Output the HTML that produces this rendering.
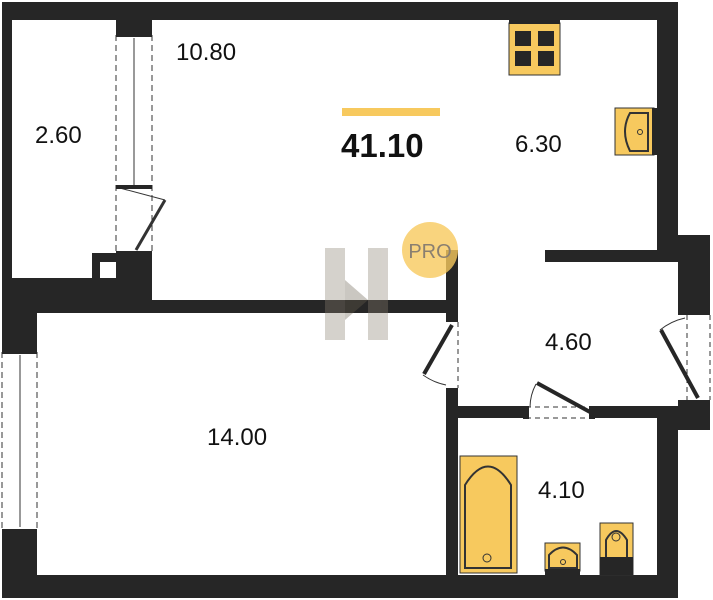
<!DOCTYPE html>
<html><head><style>html,body{margin:0;padding:0;background:#fff}svg{display:block}text{font-family:"Liberation Sans",sans-serif;fill:#111}</style></head><body>
<svg width="713" height="600" viewBox="0 0 713 600" xmlns="http://www.w3.org/2000/svg">
<g fill="#262626">
<rect x="2" y="2" width="676" height="18"/>
<rect x="2" y="2" width="10" height="300"/>
<rect x="116" y="2" width="36" height="33"/>
<rect x="657" y="2" width="21" height="260"/>
<rect x="678" y="235" width="32" height="80"/>
<rect x="545" y="250" width="165" height="12"/>
<rect x="92" y="253" width="60" height="60"/>
<rect x="2" y="278" width="150" height="35"/>
<rect x="2" y="278" width="35" height="74"/>
<rect x="2" y="530" width="35" height="68"/>
<rect x="152" y="300" width="306" height="13"/>
<rect x="446" y="250" width="12" height="72"/>
<rect x="446" y="388" width="12" height="190"/>
<rect x="446" y="406" width="80" height="12"/>
<rect x="590" y="406" width="120" height="12"/>
<rect x="678" y="400" width="32" height="30"/>
<rect x="657" y="406" width="21" height="192"/>
<rect x="2" y="575" width="676" height="23"/>
</g>
<rect x="100" y="262" width="16" height="16" fill="#fff"/>
<!-- watermark -->
<g opacity="0.35"><rect x="325" y="248" width="20" height="92" fill="#8a7f70"/><rect x="368" y="248" width="20" height="92" fill="#8a7f70"/><polygon points="345,280 368,300 345,320" fill="#6a6050"/></g>
<circle cx="430" cy="250" r="28" fill="#f7c95e" opacity="0.8"/>
<text x="430" y="258" font-size="20" fill="#8a7f70" style="fill:#8a7f70" text-anchor="middle">PRO</text>
<!-- windows -->
<g stroke="#333" fill="none">
<line x1="116" y1="35" x2="116" y2="252" stroke-dasharray="6,4"/>
<line x1="152" y1="35" x2="152" y2="252" stroke-dasharray="6,4"/>
<line x1="134" y1="38" x2="134" y2="186"/>
<line x1="2" y1="352" x2="2" y2="530" stroke-dasharray="6,4"/>
<line x1="37" y1="352" x2="37" y2="530" stroke-dasharray="6,4"/>
<line x1="20" y1="355" x2="20" y2="527"/>
<line x1="458" y1="322" x2="458" y2="388" stroke-dasharray="5,4"/>
<line x1="526" y1="407" x2="590" y2="407" stroke-dasharray="5,4"/>
<line x1="526" y1="418" x2="590" y2="418" stroke-dasharray="5,4"/>
<line x1="687" y1="315" x2="687" y2="400" stroke-dasharray="5,4"/>
<line x1="710" y1="315" x2="710" y2="400" stroke-dasharray="5,4"/>
<line x1="116" y1="187" x2="165" y2="200" />
<line x1="165" y1="200" x2="136" y2="250" stroke-width="3"/>
<path d="M423,375 A60,60 0 0 0 446,385"/>
<path d="M536,384 A50,50 0 0 0 530,407"/>
<path d="M660,330 A60,60 0 0 1 685,318"/>
</g>
<g fill="#262626">
<rect x="116" y="33" width="36" height="4"/><rect x="116" y="185" width="36" height="4"/><rect x="116" y="251" width="36" height="4"/>
<rect x="2" y="350" width="35" height="4"/><rect x="2" y="529" width="35" height="4"/>
<rect x="523" y="406" width="6" height="13"/><rect x="589" y="406" width="6" height="13"/>
</g>
<g stroke="#262626" stroke-width="4">
<line x1="452" y1="325" x2="424" y2="374"/>
<line x1="537" y1="383" x2="590" y2="412"/>
<line x1="661" y1="330" x2="698" y2="398"/>
</g>
<!-- fixtures -->
<rect x="509" y="23" width="51" height="52" fill="#f7c95e" stroke="#333"/>
<rect x="509" y="20" width="51" height="4" fill="#262626"/>
<g fill="#262626"><rect x="515" y="31" width="16" height="15"/><rect x="538" y="31" width="16" height="15"/><rect x="515" y="51" width="16" height="15"/><rect x="538" y="51" width="16" height="15"/></g>
<rect x="615" y="108" width="39" height="47" fill="#f7c95e" stroke="#333"/>
<rect x="652" y="108" width="6" height="47" fill="#262626"/>
<path d="M648,113 L630,113 Q620,131 630,151 L648,151 Z" fill="none" stroke="#333" stroke-width="2"/>
<circle cx="640" cy="132" r="2.5" fill="none" stroke="#333"/>
<rect x="460" y="456" width="57" height="117" fill="#f7c95e" stroke="#333"/>
<path d="M465,568 L465,485 Q488,448 511,485 L511,568 Z" fill="none" stroke="#333" stroke-width="2"/>
<circle cx="487" cy="558" r="4" fill="none" stroke="#333"/>
<rect x="545" y="543" width="35" height="28" fill="#f7c95e" stroke="#333"/>
<rect x="545" y="569" width="35" height="6" fill="#262626"/>
<path d="M549,568 L549,555 Q563,540 577,555 L577,568 Z" fill="none" stroke="#333" stroke-width="2"/>
<circle cx="563" cy="562" r="2.5" fill="none" stroke="#333"/>
<rect x="600" y="523" width="33" height="52" fill="#f7c95e" stroke="#333"/>
<rect x="600" y="557" width="33" height="18" fill="#262626"/>
<path d="M606,557 L606,540 Q616,522 627,540 L627,557" fill="none" stroke="#333" stroke-width="2"/>
<circle cx="616" cy="537" r="4" fill="none" stroke="#333"/>
<rect x="342" y="108" width="98" height="8" fill="#f7c95e"/>
<!-- labels -->
<text x="176" y="60" font-size="24">10.80</text>
<text x="35" y="143" font-size="24">2.60</text>
<text x="341" y="157" font-size="33" font-weight="bold">41.10</text>
<text x="515" y="152" font-size="24">6.30</text>
<text x="545" y="350" font-size="24">4.60</text>
<text x="207" y="445" font-size="24">14.00</text>
<text x="538" y="498" font-size="24">4.10</text>
</svg>
</body></html>
